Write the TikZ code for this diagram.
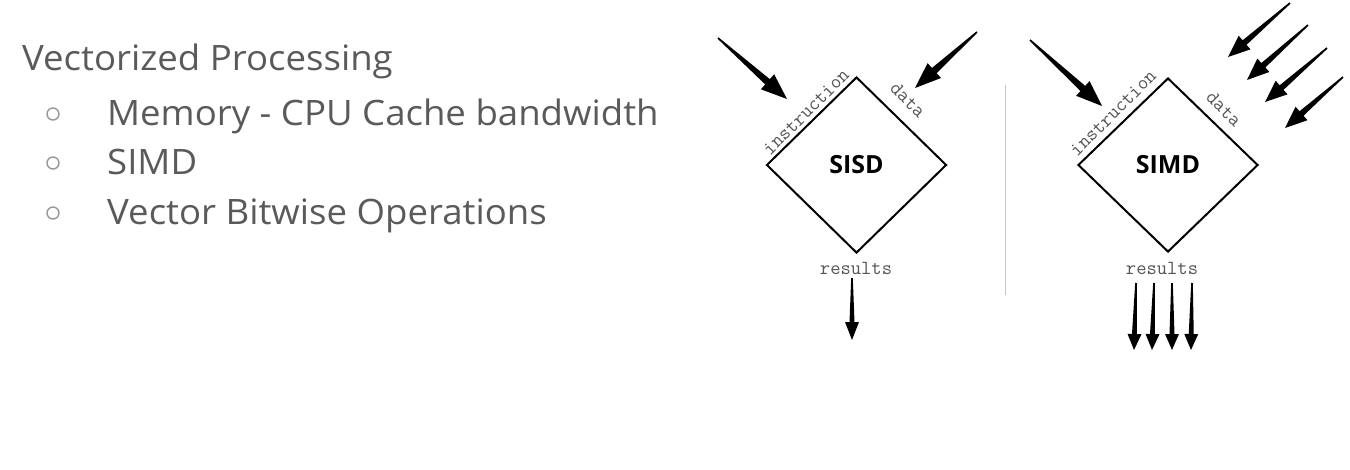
\documentclass[tikz,border=0pt]{standalone}
\usepackage{fontspec}
\setmainfont[FakeStretch=1.045]{Open Sans}
\newfontfamily\boldf{Open Sans}
\usetikzlibrary{calc,shapes.geometric}
\definecolor{txtgray}{HTML}{5A5A5A}
\definecolor{lblgray}{HTML}{555555}
\definecolor{bulgray}{HTML}{999999}
\newcommand\fatarrow[5]{%
  \coordinate (fab) at ($(#2)!#3!(#1)$);
  \fill[black] ($(#1)!0.8pt!90:(#2)$) -- ($(fab)!#5!90:(#2)$) -- ($(fab)!#4!90:(#2)$) -- (#2) -- ($(fab)!#4!-90:(#2)$) -- ($(fab)!#5!-90:(#2)$) -- ($(#1)!0.8pt!-90:(#2)$) -- cycle;}
\begin{document}
\begin{tikzpicture}[x=1pt,y=-1pt,
  maintext/.style={anchor=base west,inner sep=0,text=txtgray,font=\fontsize{35}{40}\selectfont},
  bul/.style={circle,draw=bulgray,line width=1.4pt,minimum size=12pt,inner sep=0},
  box/.style={diamond,draw=black,line width=2pt,inner sep=0,font=\boldf\bfseries\fontsize{25}{28}\selectfont},
  lbl/.style={inner sep=0,text=lblgray,font=\ttfamily\fontsize{20}{22}\selectfont}]
\useasboundingbox[fill=white] (0,0) rectangle (1350,469);
% left text
\node[maintext] (title) at (22,70) {Vectorized Processing};
\node[bul] (b1) at (53,114) {};
\node[bul] (b2) at (53,163) {};
\node[bul] (b3) at (53,213) {};
\node[maintext] (t1) at (107,125) {Memory - CPU Cache bandwidth};
\node[maintext] (t2) at (107,174) {SIMD};
\node[maintext] (t3) at (107,224) {Vector Bitwise Operations};
% separator
\coordinate (sepA) at (1005,85);
\coordinate (sepB) at (1005,295);
\draw[gray!45,line width=1pt] (sepA) -- (sepB);
% SISD
\node[box,minimum width=180pt,minimum height=176pt] (sisd) at (856.5,165) {SISD};
\node[lbl,rotate=45] (sisdI) at (806,112) {instruction};
\node[lbl,rotate=-45] (sisdD) at (908,100) {data};
\node[lbl] (sisdR) at (856,268) {results};
\coordinate (si1t) at (718,38); \coordinate (si1h) at (787,99);
\fatarrow{si1t}{si1h}{26pt}{10pt}{3.5pt}
\coordinate (sd1t) at (977,32); \coordinate (sd1h) at (915,88);
\fatarrow{sd1t}{sd1h}{26pt}{10pt}{3.5pt}
\coordinate (sr1t) at (852,278); \coordinate (sr1h) at (852,340);
\fatarrow{sr1t}{sr1h}{18pt}{7pt}{2.5pt}
% SIMD
\node[box,minimum width=180pt,minimum height=174pt] (simd) at (1168,165) {SIMD};
\node[lbl,rotate=45] (simdI) at (1113,113) {instruction};
\node[lbl,rotate=-45] (simdD) at (1224,109) {data};
\node[lbl] (simdR) at (1162,268) {results};
\coordinate (mi1t) at (1030,40); \coordinate (mi1h) at (1102,106);
\fatarrow{mi1t}{mi1h}{26pt}{10pt}{3.5pt}
\coordinate (md1t) at (1290,3);  \coordinate (md1h) at (1228,57);
\coordinate (md2t) at (1308,25); \coordinate (md2h) at (1247,80);
\coordinate (md3t) at (1327,48); \coordinate (md3h) at (1265,102);
\coordinate (md4t) at (1343,77); \coordinate (md4h) at (1285,128);
\fatarrow{md1t}{md1h}{22pt}{9pt}{3pt}
\fatarrow{md2t}{md2h}{22pt}{9pt}{3pt}
\fatarrow{md3t}{md3h}{22pt}{9pt}{3pt}
\fatarrow{md4t}{md4h}{22pt}{9pt}{3pt}
\coordinate (mr1t) at (1136,283); \coordinate (mr1h) at (1134,350);
\coordinate (mr2t) at (1154,283); \coordinate (mr2h) at (1152,350);
\coordinate (mr3t) at (1172,283); \coordinate (mr3h) at (1172,350);
\coordinate (mr4t) at (1192,283); \coordinate (mr4h) at (1191,350);
\fatarrow{mr1t}{mr1h}{16pt}{7pt}{2.5pt}
\fatarrow{mr2t}{mr2h}{16pt}{7pt}{2.5pt}
\fatarrow{mr3t}{mr3h}{16pt}{7pt}{2.5pt}
\fatarrow{mr4t}{mr4h}{16pt}{7pt}{2.5pt}
\end{tikzpicture}
\end{document}
